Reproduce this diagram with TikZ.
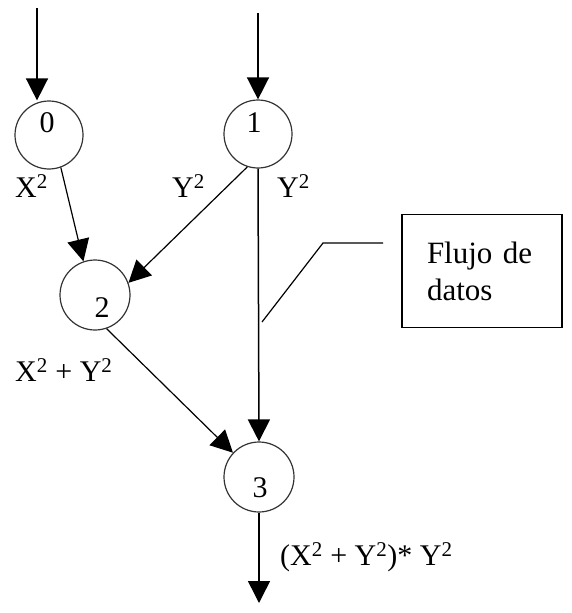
\documentclass[tikz,border=0pt]{standalone}
\usepackage{fontspec}
\setmainfont{Liberation Serif}
\usetikzlibrary{arrows.meta,calc}

\begin{document}
\begin{tikzpicture}[x=1pt,y=-1pt,
  op/.style={circle,draw=black!80,line width=1.2pt,minimum size=68pt,inner sep=0pt},
  txt/.style={font=\fontsize{30}{36}\selectfont,inner sep=0pt},
  flow/.style={line width=1.5pt,-{Triangle[length=22pt,width=22pt]}}]
  \useasboundingbox (0,0) rectangle (571,613);

  % Nodos de operacion
  \node[op] (n0) at (49,135) {};
  \node[op] (n1) at (258,134) {};
  \node[op,minimum size=70pt] (n2) at (95,295) {};
  \node[op,minimum size=70pt] (n3) at (259,477) {};
  \node[txt] (d0) at (47,123) {0};
  \node[txt] (d1) at (254,123) {1};
  \node[txt] (d2) at (102,308) {2};
  \node[txt] (d3) at (260,488) {3};

  % Entradas y salida
  \coordinate (i0) at (37,8);
  \coordinate (i1) at (258,13);
  \coordinate (o3) at (259,603);
  \draw[flow] (i0) -- (i0 |- n0.north);
  \draw[flow] (i1) -- (n1.north);
  \draw[flow] (n3.south) -- (o3);

  % Flujo entre nodos
  \draw[flow,line width=1.2pt] (n0.-70) -- (n2.109);
  \draw[flow,line width=1.2pt] (n1.-108) -- (n2.20);
  \draw[flow] (n1.south) -- (n3.north);
  \draw[flow,line width=1.2pt] (n2.-71) -- (n3.137);

  % Etiquetas
  \node[txt,anchor=west] (lx) at (15,186) {X\textsuperscript{2}};
  \node[txt,anchor=west] (ly1) at (172,186) {Y\textsuperscript{2}};
  \node[txt,anchor=west] (ly2) at (277,186) {Y\textsuperscript{2}};
  \node[txt,anchor=west] (lxy) at (15,370) {X\textsuperscript{2} + Y\textsuperscript{2}};
  \node[txt,anchor=west] (lout) at (280,557) {(X\textsuperscript{2} + Y\textsuperscript{2})* Y\textsuperscript{2}};

  % Recuadro
  \node[draw,line width=1.2pt,font=\fontsize{31}{37}\selectfont,align=left,
    inner xsep=25pt,text width=110pt,minimum height=113pt] (fl) at (482,271) {Flujo de\\datos};
  \coordinate (c0) at (383,243);
  \coordinate (c1) at (323,243);
  \coordinate (c2) at (262,322);
  \draw[line width=1.2pt] (c0) -- (c1) -- (c2);
\end{tikzpicture}
\end{document}
